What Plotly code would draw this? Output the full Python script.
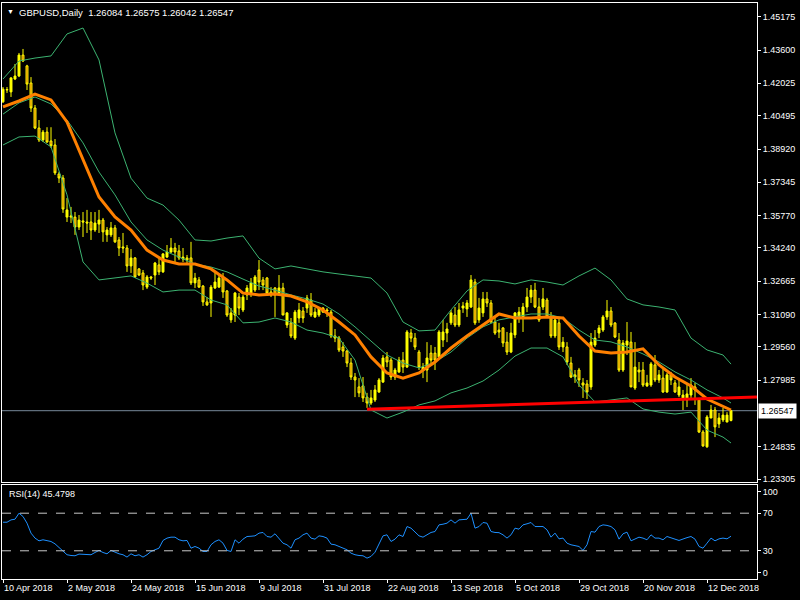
import pandas as pd
import plotly.graph_objects as go

# ---------------- data ----------------
start_date = "2018-04-10"
n_bars = 183
dates = pd.bdate_range(start_date, periods=n_bars)
bar_idx = list(range(n_bars))

opens = [1.4115,1.4171,1.4162,1.4223,1.4237,1.4336,1.4285,1.4204,1.4086,1.3991,1.3935,1.3972,1.3930,1.3911,1.3774,1.3755,1.3570,1.3570,1.3570,1.3523,
1.3552,1.3547,1.3547,1.3509,1.3537,1.3556,1.3486,1.3486,1.3519,1.3462,1.3429,1.3424,1.3339,1.3377,1.3325,1.3306,1.3239,1.3287,1.3296,1.3344,
1.3311,1.3381,1.3405,1.3424,1.3410,1.3372,1.3377,1.3377,1.3259,1.3273,1.3244,1.3169,1.3164,1.3235,1.3239,1.3282,1.3221,1.3084,1.3107,1.3192,
1.3131,1.3202,1.3211,1.3225,1.3320,1.3273,1.3282,1.3216,1.3235,1.3211,1.3235,1.3060,1.3070,1.2998,1.3093,1.3126,1.3140,1.3178,1.3098,1.3107,
1.3121,1.3131,1.3121,1.3008,1.2998,1.2956,1.2937,1.2880,1.2814,1.2767,1.2772,1.2719,1.2691,1.2705,1.2743,1.2790,1.2909,1.2894,1.2814,1.2838,
1.2894,1.2861,1.3022,1.2998,1.2932,1.2847,1.2847,1.2927,1.2927,1.2909,1.2989,1.3022,1.3070,1.3107,1.3060,1.3140,1.3136,1.3145,1.3263,1.3084,
1.3117,1.3183,1.3164,1.3074,1.3036,1.3046,1.2979,1.2932,1.3013,1.3093,1.3093,1.3145,1.3192,1.3225,1.3145,1.3145,1.3178,1.3098,1.3008,1.3070,
1.2956,1.2956,1.2880,1.2824,1.2847,1.2786,1.2781,1.2767,1.2965,1.3022,1.3036,1.3098,1.3126,1.3069,1.2989,1.2847,1.2965,1.2979,1.2762,1.2847,
1.2847,1.2772,1.2776,1.2871,1.2800,1.2809,1.2743,1.2824,1.2786,1.2729,1.2715,1.2705,1.2729,1.2767,1.2705,1.2554,1.2484,1.2620,1.2658,1.2592,
1.2611,1.2601,1.26084]
highs = [1.4185,1.4185,1.4232,1.4294,1.4346,1.4365,1.4290,1.4232,1.4100,1.4029,1.3982,1.3995,1.3995,1.3939,1.3784,1.3769,1.3660,1.3618,1.3594,1.3580,
1.3594,1.3604,1.3594,1.3594,1.3604,1.3566,1.3523,1.3547,1.3533,1.3476,1.3495,1.3438,1.3419,1.3381,1.3329,1.3320,1.3296,1.3292,1.3358,1.3377,
1.3400,1.3438,1.3471,1.3448,1.3438,1.3424,1.3391,1.3453,1.3306,1.3287,1.3249,1.3192,1.3249,1.3306,1.3296,1.3306,1.3225,1.3140,1.3216,1.3211,
1.3202,1.3249,1.3282,1.3296,1.3367,1.3287,1.3287,1.3239,1.3239,1.3296,1.3259,1.3121,1.3093,1.3131,1.3164,1.3145,1.3202,1.3211,1.3140,1.3145,
1.3145,1.3140,1.3131,1.3041,1.3008,1.2979,1.2942,1.2904,1.2833,1.2809,1.2814,1.2739,1.2753,1.2776,1.2809,1.2918,1.2932,1.2904,1.2857,1.2909,
1.2932,1.3036,1.3041,1.3022,1.2942,1.2880,1.2979,1.2965,1.2956,1.3036,1.3084,1.3070,1.3131,1.3145,1.3164,1.3169,1.3178,1.3296,1.3278,1.3188,
1.3216,1.3216,1.3178,1.3093,1.3070,1.3050,1.3027,1.3070,1.3121,1.3145,1.3164,1.3235,1.3249,1.3259,1.3188,1.3235,1.3188,1.3121,1.3098,1.3093,
1.3003,1.2979,1.2909,1.2847,1.2857,1.2809,1.2800,1.3022,1.3036,1.3060,1.3107,1.3178,1.3145,1.3074,1.3022,1.2989,1.3074,1.3027,1.2979,1.2885,
1.2885,1.2824,1.2885,1.2918,1.2847,1.2857,1.2833,1.2838,1.2800,1.2809,1.2753,1.2786,1.2809,1.2786,1.2715,1.2563,1.2634,1.2682,1.2672,1.2644,
1.2668,1.2648,1.26575]
lows = [1.4110,1.4157,1.4138,1.4218,1.4232,1.4303,1.4171,1.4067,1.3986,1.3925,1.3925,1.3921,1.3897,1.3769,1.3731,1.3590,1.3547,1.3542,1.3486,1.3509,
1.3476,1.3495,1.3462,1.3500,1.3495,1.3453,1.3453,1.3476,1.3448,1.3386,1.3400,1.3311,1.3306,1.3282,1.3292,1.3225,1.3230,1.3273,1.3249,1.3296,
1.3306,1.3377,1.3400,1.3358,1.3367,1.3358,1.3344,1.3249,1.3235,1.3235,1.3150,1.3150,1.3098,1.3230,1.3235,1.3188,1.3098,1.3070,1.3074,1.3107,
1.3121,1.3178,1.3192,1.3216,1.3225,1.3225,1.3202,1.3192,1.3098,1.3202,1.3107,1.3046,1.2998,1.2989,1.3070,1.3070,1.3117,1.3098,1.3093,1.3098,
1.3117,1.3098,1.2998,1.2979,1.2932,1.2909,1.2861,1.2800,1.2719,1.2719,1.2696,1.2668,1.2682,1.2696,1.2739,1.2786,1.2861,1.2800,1.2800,1.2833,
1.2833,1.2857,1.2979,1.2942,1.2847,1.2809,1.2790,1.2880,1.2847,1.2909,1.2956,1.2979,1.3060,1.3050,1.3050,1.3117,1.3098,1.3140,1.3060,1.3070,
1.3098,1.3145,1.3070,1.3013,1.2998,1.2956,1.2918,1.2927,1.2998,1.3070,1.3027,1.3121,1.3164,1.3140,1.3074,1.3131,1.3093,1.2998,1.2998,1.2942,
1.2932,1.2871,1.2809,1.2786,1.2767,1.2715,1.2710,1.2753,1.2956,1.2998,1.3027,1.3084,1.3050,1.2998,1.2838,1.2838,1.2918,1.2767,1.2753,1.2790,
1.2767,1.2767,1.2767,1.2790,1.2786,1.2739,1.2739,1.2776,1.2739,1.2719,1.2658,1.2672,1.2705,1.2682,1.2549,1.2484,1.2479,1.2620,1.2530,1.2573,
1.2601,1.2601,1.26042]
closes = [1.4175,1.4173,1.4228,1.4237,1.4336,1.4308,1.4199,1.4086,1.3991,1.3935,1.3972,1.3925,1.3907,1.3779,1.3755,1.3608,1.3604,1.3575,1.3523,1.3556,
1.3547,1.3542,1.3509,1.3542,1.3556,1.3500,1.3509,1.3519,1.3453,1.3424,1.3424,1.3339,1.3377,1.3287,1.3296,1.3249,1.3287,1.3282,1.3353,1.3311,
1.3396,1.3405,1.3424,1.3405,1.3377,1.3381,1.3367,1.3259,1.3282,1.3239,1.3169,1.3155,1.3239,1.3263,1.3282,1.3216,1.3107,1.3117,1.3211,1.3140,
1.3192,1.3235,1.3259,1.3287,1.3263,1.3249,1.3211,1.3202,1.3202,1.3235,1.3107,1.3117,1.3008,1.3121,1.3131,1.3093,1.3188,1.3107,1.3121,1.3140,
1.3140,1.3126,1.3008,1.2998,1.2942,1.2937,1.2880,1.2814,1.2800,1.2739,1.2715,1.2691,1.2715,1.2753,1.2800,1.2904,1.2885,1.2814,1.2847,1.2894,
1.2861,1.3027,1.2998,1.2956,1.2861,1.2861,1.2904,1.2894,1.2894,1.3027,1.3027,1.3041,1.3117,1.3060,1.3131,1.3150,1.3164,1.3273,1.3070,1.3140,
1.3183,1.3164,1.3074,1.3022,1.3027,1.2975,1.2932,1.3022,1.3117,1.3121,1.3145,1.3192,1.3225,1.3145,1.3084,1.3183,1.3098,1.3008,1.3084,1.2956,
1.2979,1.2885,1.2814,1.2814,1.2800,1.2776,1.2743,1.2979,1.2998,1.3046,1.3098,1.3126,1.3060,1.3003,1.2847,1.2975,1.2984,1.2767,1.2861,1.2838,
1.2776,1.2786,1.2876,1.2800,1.2824,1.2743,1.2824,1.2800,1.2743,1.2767,1.2729,1.2734,1.2776,1.2753,1.2554,1.2488,1.2625,1.2658,1.2578,1.2620,
1.2634,1.2634,1.26547]

# Bollinger bands and orange moving average, read every 4 bars
band_idx = list(range(0, 183, 4)) + [182]
bb_upper = [1.4223,1.4308,1.4322,1.4332,1.4436,1.4464,1.4313,1.3968,1.3754,1.3660,1.3627,1.3556,1.3462,1.3457,1.3471,1.3481,1.3376,1.3325,1.3339,1.3325,
1.3311,1.3301,1.3292,1.3282,1.3211,1.3074,1.3032,1.3036,1.3131,1.3221,1.3273,1.3268,1.3254,1.3273,1.3263,1.3249,1.3292,1.3329,1.3273,1.3183,
1.3155,1.3145,1.3131,1.2998,1.2942,1.2918,1.2875]
bb_middle = [1.4057,1.4110,1.4138,1.4105,1.4029,1.3921,1.3783,1.3675,1.3547,1.3462,1.3414,1.3381,1.3348,1.3334,1.3311,1.3277,1.3244,1.3225,1.3202,1.3183,
1.3159,1.3112,1.3051,1.2984,1.2918,1.2880,1.2857,1.2885,1.2932,1.2998,1.3051,1.3084,1.3098,1.3112,1.3112,1.3093,1.3036,1.2989,1.2980,1.2956,
1.2923,1.2885,1.2838,1.2800,1.2753,1.2715,1.2691]
bb_lower = [1.3911,1.3949,1.3953,1.3902,1.3675,1.3358,1.3273,1.3282,1.3292,1.3258,1.3216,1.3225,1.3225,1.3178,1.3155,1.3070,1.3074,1.3093,1.3074,1.3036,
1.3022,1.2998,1.2894,1.2658,1.2620,1.2648,1.2682,1.2701,1.2739,1.2762,1.2795,1.2847,1.2913,1.2951,1.2951,1.2909,1.2776,1.2696,1.2705,1.2715,
1.2663,1.2648,1.2639,1.2648,1.2563,1.2530,1.2502]
ma_orange = [1.4091,1.4119,1.4152,1.4124,1.4020,1.3840,1.3665,1.3571,1.3509,1.3414,1.3367,1.3348,1.3348,1.3325,1.3273,1.3211,1.3202,1.3207,1.3197,1.3169,
1.3131,1.3074,1.3013,1.2909,1.2833,1.2809,1.2833,1.2885,1.2951,1.3008,1.3060,1.3112,1.3093,1.3093,1.3098,1.3093,1.3008,1.2937,1.2928,1.2932,
1.2947,1.2871,1.2814,1.2772,1.2710,1.2677,1.2658]

rsi = [60.4,60.4,62.9,63.6,70.0,66.5,59.4,48.8,43.5,40.6,41.7,40.6,39.9,37.4,33.5,30.4,25.8,25.0,24.7,26.5,
26.5,26.5,25.8,28.2,30.4,28.2,26.8,30.4,28.2,26.8,25.8,23.3,26.8,24.7,25.8,23.3,25.8,29.3,31.1,32.8,
41.0,43.5,44.5,44.5,41.7,40.6,41.0,32.8,34.6,32.8,29.3,29.3,36.4,39.9,41.7,38.1,30.4,29.3,41.7,38.1,
42.4,45.2,45.5,45.9,48.8,49.5,45.2,44.5,48.1,43.5,38.1,36.4,32.8,41.7,43.5,47.0,48.8,43.5,42.4,45.9,
45.2,43.5,37.1,36.4,34.6,33.0,31.1,27.5,25.8,25.0,24.7,22.2,24.0,28.5,37.0,45.9,47.0,39.9,42.4,47.0,
45.2,55.8,54.1,50.5,45.9,44.5,47.0,49.5,50.5,57.6,58.3,59.4,62.9,59.4,62.9,63.6,63.6,70.0,54.1,55.8,
60.1,59.4,50.5,49.5,49.3,47.0,43.5,47.0,54.1,53.0,57.6,58.7,60.1,55.8,55.8,55.8,52.3,44.5,48.8,42.7,
43.5,38.1,36.4,35.3,34.6,30.4,36.4,50.5,49.8,55.8,57.6,57.0,55.8,52.3,42.4,48.1,49.8,40.6,42.4,44.5,
43.5,41.7,47.0,43.5,43.5,41.7,45.2,43.5,42.4,41.0,42.7,44.0,45.2,42.4,34.6,32.8,38.1,43.5,40.6,42.7,
43.5,42.7,45.48]
rsi_levels = [70, 30]

trend_idx = [91, 188.5]
trend_price = [1.2662, 1.2719]

last_price = 1.26547
price_ticks = [1.45175,1.43600,1.42025,1.40495,1.38920,1.37345,1.35770,1.34240,
               1.32665,1.31090,1.29560,1.27985,1.24835,1.23305]
rsi_tick_vals = [93, 70, 30, 7]
rsi_tick_text = ["100", "70", "30", "0"]
label_every = 16

header = "GBPUSD,Daily  1.26084 1.26575 1.26042 1.26547"
rsi_title = "RSI(14) 45.4798"

# ---------------- figure ----------------
FONT = "Liberation Sans, Arial, sans-serif"
tick_idx = bar_idx[::label_every]
tick_txt = [f"{d.day} {d.strftime('%b %Y')}" for d in dates[::label_every]]

fig = go.Figure()

for arr in (bb_upper, bb_middle, bb_lower):
    fig.add_trace(go.Scatter(x=band_idx, y=arr, mode="lines",
                             line=dict(color="#3cb371", width=1),
                             hoverinfo="skip", showlegend=False))

fig.add_trace(go.Candlestick(
    x=bar_idx, open=opens, high=highs, low=lows, close=closes,
    increasing=dict(line=dict(color="#ffff00", width=1), fillcolor="#ffff00"),
    decreasing=dict(line=dict(color="#ffff00", width=1), fillcolor="#d26400"),
    whiskerwidth=0, showlegend=False))

fig.add_trace(go.Scatter(x=band_idx, y=ma_orange, mode="lines",
                         line=dict(color="#ff8000", width=3),
                         hoverinfo="skip", showlegend=False))

fig.add_trace(go.Scatter(x=trend_idx, y=trend_price, mode="lines",
                         line=dict(color="#ff0000", width=3),
                         hoverinfo="skip", showlegend=False))

fig.add_trace(go.Scatter(x=bar_idx, y=rsi, mode="lines", xaxis="x2", yaxis="y2",
                         line=dict(color="#1e90ff", width=1),
                         hoverinfo="skip", showlegend=False))

# current price line
fig.add_shape(type="line", xref="paper", x0=0, x1=1, yref="y", y0=last_price, y1=last_price,
              line=dict(color="#778899", width=1), layer="below")
for lv in rsi_levels:
    fig.add_shape(type="line", xref="paper", x0=0, x1=1, yref="y2", y0=lv, y1=lv,
                  line=dict(color="#c8c8c8", width=1, dash="dash"))

x_range = [-0.25, 188.5]
axis_common = dict(showgrid=False, zeroline=False, showline=True, linecolor="#ffffff",
                   linewidth=1, mirror=True, color="#ffffff", automargin=False)

fig.update_layout(
    width=800, height=600,
    paper_bgcolor="#000000", plot_bgcolor="#000000",
    margin=dict(l=2, r=43, t=3, b=21, autoexpand=False),
    font=dict(family=FONT, size=9, color="#ffffff"),
    hovermode=False,
    xaxis=dict(domain=[0, 1], anchor="y", range=x_range, showticklabels=False,
               ticks="", rangeslider=dict(visible=False), **axis_common),
    yaxis=dict(domain=[0.1684, 1], anchor="x", side="right", range=[1.23176, 1.45823],
               tickvals=price_ticks, tickformat=".5f", ticks="outside", ticklen=3,
               tickcolor="#ffffff", tickfont=dict(size=9, color="#ffffff", family=FONT),
               **axis_common),
    xaxis2=dict(domain=[0, 1], anchor="y2", range=x_range, tickvals=tick_idx,
                ticktext=tick_txt, ticks="outside", ticklen=3, tickcolor="#ffffff",
                ticklabelposition="outside right",
                tickfont=dict(size=9, color="#ffffff", family=FONT), **axis_common),
    yaxis2=dict(domain=[0, 0.1632], anchor="x2", side="right", range=[0, 100],
                tickvals=rsi_tick_vals, ticktext=rsi_tick_text, ticks="outside", ticklen=3,
                tickcolor="#ffffff", tickfont=dict(size=9, color="#ffffff", family=FONT),
                **axis_common),
)

fig.add_annotation(xref="paper", yref="y", x=1, y=last_price, xanchor="left",
                   text="1.26547", showarrow=False, bgcolor="#ffffff",
                   font=dict(color="#000000", size=9, family=FONT), borderpad=2, xshift=1)
fig.add_annotation(xref="paper", yref="paper", x=0, y=1, xanchor="left", yanchor="top",
                   text="\u25BC", showarrow=False, xshift=3, yshift=-3,
                   font=dict(color="#ffffff", size=7, family=FONT))
fig.add_annotation(xref="paper", yref="paper", x=0, y=1, xanchor="left", yanchor="top",
                   text=header, showarrow=False, xshift=15, yshift=-2,
                   font=dict(color="#ffffff", size=9.5, family=FONT))
fig.add_annotation(xref="paper", yref="paper", x=0, y=0.1632, xanchor="left", yanchor="top",
                   text=rsi_title, showarrow=False, xshift=5, yshift=-2,
                   font=dict(color="#ffffff", size=9, family=FONT))

fig.write_html("out.html", config={"displayModeBar": False},
               post_script="document.body.style.margin='0';document.body.style.background='#000';")
